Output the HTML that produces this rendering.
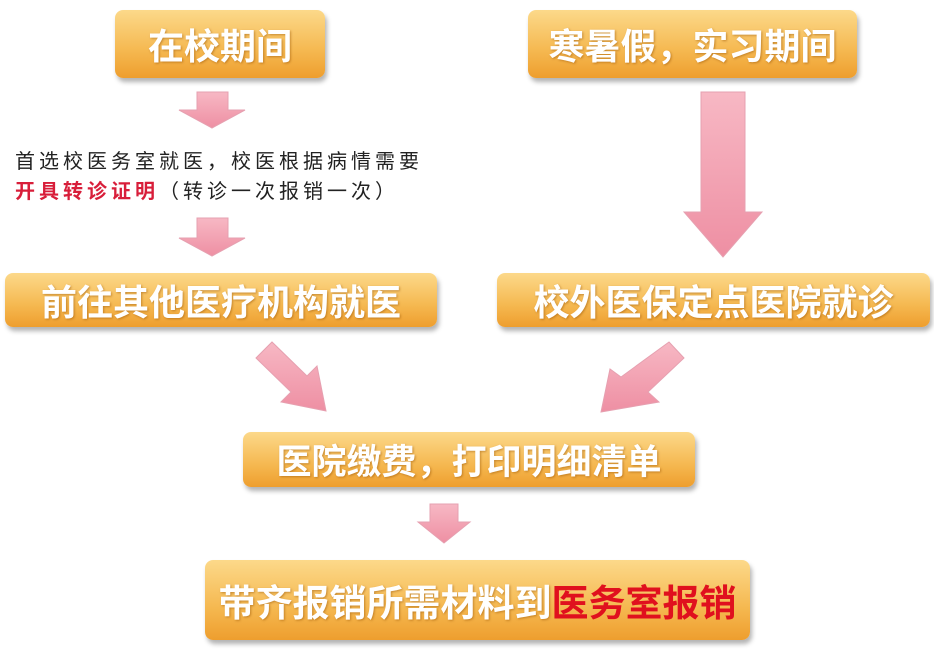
<!DOCTYPE html>
<html><head><meta charset="utf-8"><style>
body{margin:0;width:934px;height:652px;background:#fff;position:relative;overflow:hidden;font-family:"Liberation Sans","Noto Sans CJK SC",sans-serif}
.b{position:absolute;border-radius:8px;background:linear-gradient(#fcd98a,#f5b850 60%,#ee9e2e);box-shadow:2px 4px 5px rgba(0,0,0,.3);color:#fff;font-weight:bold;display:flex;align-items:center;justify-content:center;text-shadow:1px 1px 2px rgba(150,80,0,.5);white-space:nowrap}
.t{position:absolute;left:15px;font-size:20px;letter-spacing:4px;line-height:24px;color:#222;white-space:nowrap}
svg{position:absolute;left:0;top:0}
</style></head><body>
<svg width="934" height="652">
<defs><linearGradient id="g" x1="0" y1="0" x2="0" y2="1"><stop offset="0" stop-color="#f7b8c4"/><stop offset="1" stop-color="#ee8fa3"/></linearGradient></defs>
<g fill="url(#g)" stroke="#e6a0b0" stroke-width="1">
<polygon points="197,92 228,92 228,110 245,110 212,128 179,110 197,110"/>
<polygon points="197,218 228,218 228,238 245,238 212,256 179,238 197,238"/>
<polygon points="701,92 745,92 745,212 762,212 723,257 684,212 701,212"/>
<polygon points="430,504 458,504 458,522 470,522 444,543 418,522 430,522"/>
<polygon points="256,358 272,342 307,376 317,366 326,411 281,402 291,392"/>
<polygon points="669,342 684,358 648,392 659,402 601,412 610,369 621,377"/>
</g>
</svg>
<div class="b" style="left:115px;top:10px;width:210px;height:68px;font-size:36px">在校期间</div>
<div class="b" style="left:528px;top:10px;width:329px;height:68px;font-size:36px">寒暑假，实习期间</div>
<div class="t" style="top:150px">首选校医务室就医，校医根据病情需要</div>
<div class="t" style="top:180px"><b style="color:#d81e3a">开具转诊证明</b>（转诊一次报销一次）</div>
<div class="b" style="left:5px;top:273px;width:432px;height:54px;font-size:36px">前往其他医疗机构就医</div>
<div class="b" style="left:497px;top:273px;width:433px;height:54px;font-size:36px">校外医保定点医院就诊</div>
<div class="b" style="left:243px;top:432px;width:452px;height:55px;font-size:35px">医院缴费，打印明细清单</div>
<div class="b" style="left:205px;top:560px;width:545px;height:80px;font-size:37px">带齐报销所需材料到<span style="color:#e0101e;text-shadow:none">医务室报销</span></div>
</body></html>
